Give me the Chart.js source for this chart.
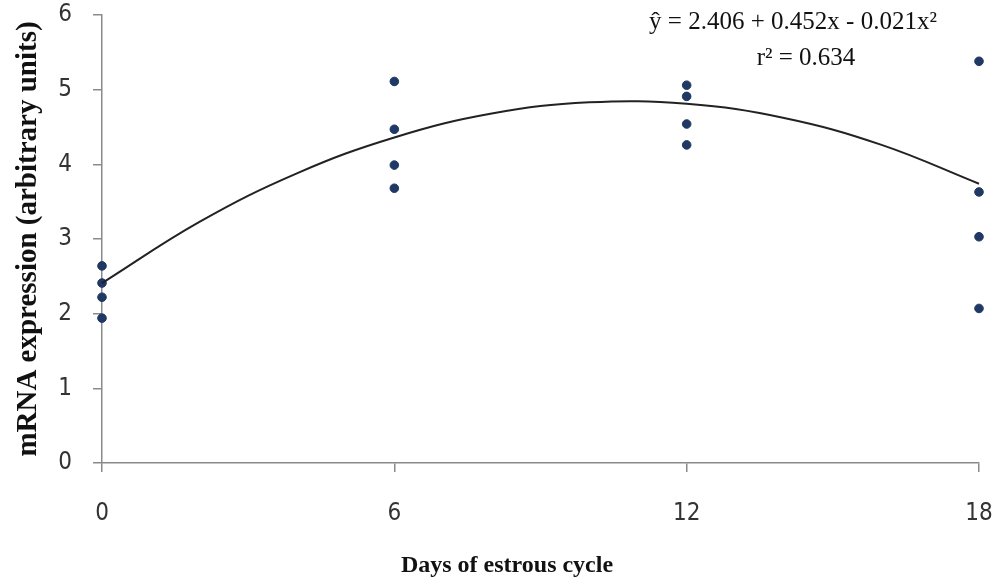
<!DOCTYPE html>
<html>
<head>
<meta charset="utf-8">
<script src="https://cdn.jsdelivr.net/npm/chart.js@4"></script>
<style>
  html, body { margin: 0; padding: 0; background: #fff; }
  #wrap { width: 998px; height: 584px; }
</style>
</head>
<body>
<div id="wrap"><canvas id="chart" width="998" height="584"></canvas></div>
<script>
const dayX = [0, 0, 0, 0, 6, 6, 6, 6, 12, 12, 12, 12, 18, 18, 18, 18];
const expressionY = [2.64, 2.41, 2.22, 1.94, 5.11, 4.47, 3.99, 3.68, 5.06, 4.91, 4.54, 4.26, 5.38, 3.63, 3.03, 2.07];

// fitted curve
const fitX = [0, 2, 4, 6, 8, 10, 12, 14, 16, 18];
const fitY = [2.41, 3.23, 3.88, 4.36, 4.68, 4.83, 4.81, 4.62, 4.26, 3.74];

const xTicks = [0, 6, 12, 18];
const yTicks = [0, 1, 2, 3, 4, 5, 6];

const eqLine1 = 'ŷ = 2.406 + 0.452x - 0.021x²';
const eqLine2 = 'r² = 0.634';
const xTitle = 'Days of estrous cycle';

const axisGray = '#8a8a8a';
const tickFont = { family: '"DejaVu Sans Condensed", "Liberation Sans Narrow", sans-serif', size: 24 };
const serif = '"Liberation Serif", "Times New Roman", serif';

// trendline label top right, and the x title (sits left of centre in the original)
const extraText = {
    id: 'extraText',
    afterDraw(chart) {
        const ctx = chart.ctx;
        ctx.save();
        ctx.fillStyle = '#111';
        ctx.textAlign = 'center';
        ctx.textBaseline = 'alphabetic';
        ctx.font = '25px ' + serif;
        ctx.fillText(eqLine1, 793, 29);
        ctx.fillText(eqLine2, 806, 65);
        ctx.font = 'bold 24px ' + serif;
        ctx.textBaseline = 'middle';
        ctx.fillText(xTitle, 507, 566);
        ctx.restore();
    }
};

const points = dayX.map((x, i) => ({ x: x, y: expressionY[i] }));
const curve = fitX.map((x, i) => ({ x: x, y: fitY[i] }));

new Chart(document.getElementById('chart').getContext('2d'), {
    type: 'scatter',
    data: {
        datasets: [
            {
                data: curve,
                showLine: true,
                borderColor: '#222',
                borderWidth: 2,
                pointRadius: 0,
                tension: 0.4,
                clip: false
            },
            {
                data: points,
                showLine: false,
                backgroundColor: '#1f3864',
                borderColor: '#1f3864',
                pointRadius: 4.3,
                clip: false
            }
        ]
    },
    options: {
        responsive: false,
        animation: false,
        layout: { padding: { top: 15, right: 19, left: 0, bottom: 0 } },
        plugins: { legend: { display: false }, tooltip: { enabled: false } },
        scales: {
            x: {
                type: 'linear',
                min: 0, max: 18,
                afterBuildTicks: (scale) => { scale.ticks = xTicks.map(v => ({ value: v })); },
                afterFit: (scale) => { scale.height = 121; scale.paddingLeft = 0; scale.paddingRight = 0; },
                border: { color: axisGray, width: 1.5 },
                grid: { display: true, drawOnChartArea: false, color: axisGray, tickLength: 9, lineWidth: 1.5 },
                ticks: { color: '#333', font: tickFont, padding: 27, maxRotation: 0 },
                title: { display: false }
            },
            y: {
                min: 0, max: 6,
                afterBuildTicks: (scale) => { scale.ticks = yTicks.map(v => ({ value: v })); },
                afterFit: (scale) => { scale.width = 102; scale.paddingTop = 0; scale.paddingBottom = 0; },
                border: { color: axisGray, width: 1.5 },
                grid: { display: true, drawOnChartArea: false, color: axisGray, tickLength: 9, lineWidth: 1.5 },
                ticks: { color: '#333', font: tickFont, padding: 21 },
                title: { display: true, text: 'mRNA expression (arbitrary units)', color: '#111', font: { family: serif, size: 29, weight: 'bold' }, padding: { top: 11, bottom: 0 } }
            }
        }
    },
    plugins: [extraText]
});
</script>
</body>
</html>
